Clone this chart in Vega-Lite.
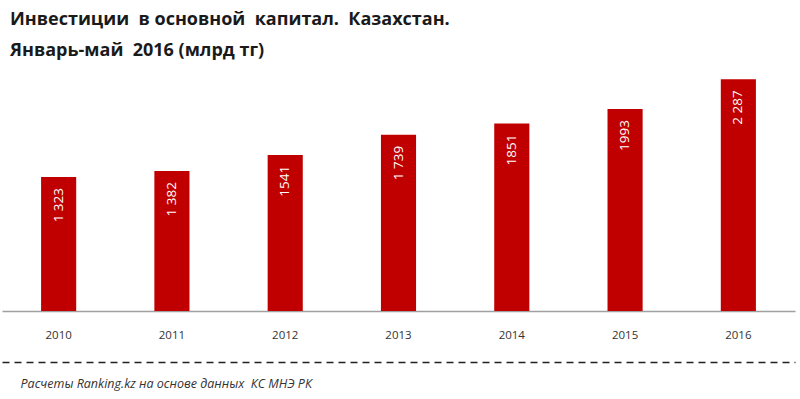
{
  "$schema": "https://vega.github.io/schema/vega-lite/v6.json",
  "width": 793,
  "height": 233,
  "autosize": "none",
  "padding": {"left": 2, "top": 78, "right": 5, "bottom": 88},
  "background": "white",
  "title": {
    "text": "Инвестиции \u00a0в основной \u00a0капитал. \u00a0Казахстан.",
    "subtitle": "Январь-май \u00a02016 (млрд тг)",
    "anchor": "start",
    "frame": "group",
    "dx": 8,
    "font": "Open Sans",
    "fontSize": 18,
    "fontWeight": "bold",
    "color": "#1a1a1a",
    "subtitleFont": "Open Sans",
    "subtitleFontSize": 18,
    "subtitleFontWeight": "bold",
    "subtitleColor": "#1a1a1a",
    "subtitlePadding": 13,
    "offset": 18
  },
  "data": {
    "values": [
      {"year": "2010", "value": 1323, "label": "1 323"},
      {"year": "2011", "value": 1382, "label": "1 382"},
      {"year": "2012", "value": 1541, "label": "1541"},
      {"year": "2013", "value": 1739, "label": "1 739"},
      {"year": "2014", "value": 1851, "label": "1851"},
      {"year": "2015", "value": 1993, "label": "1993"},
      {"year": "2016", "value": 2287, "label": "2 287"}
    ]
  },
  "config": {"view": {"stroke": null}},
  "layer": [
    {
      "mark": {"type": "bar", "color": "#c00000"},
      "encoding": {
        "x": {
          "field": "year",
          "type": "nominal",
          "scale": {"paddingInner": 0.69, "paddingOuter": 0.345},
          "axis": {
            "orient": "bottom",
            "title": null,
            "labelAngle": 0,
            "labelFont": "Open Sans",
            "labelFontSize": 11.5,
            "labelColor": "#333333",
            "labelPadding": 18,
            "ticks": false,
            "domainColor": "#a0a0a0",
            "domainWidth": 1.5
          }
        },
        "y": {
          "field": "value",
          "type": "quantitative",
          "scale": {"domain": [0, 2300], "nice": false},
          "axis": null
        }
      }
    },
    {
      "mark": {
        "type": "text",
        "angle": 270,
        "align": "right",
        "baseline": "middle",
        "dx": -11,
        "color": "white",
        "font": "Open Sans",
        "fontSize": 13.5
      },
      "encoding": {
        "x": {
          "field": "year",
          "type": "nominal",
          "axis": {
            "orient": "bottom",
            "title": "Расчеты Ranking.kz на основе данных \u00a0КС МНЭ РК",
            "labels": false,
            "ticks": false,
            "offset": 51,
            "domainDash": [7, 5],
            "domainColor": "#222222",
            "domainWidth": 1.5,
            "titleAnchor": "start",
            "titleAlign": "left",
            "titleBaseline": "middle",
            "titleX": 18,
            "titleY": 21,
            "titleFont": "Open Sans",
            "titleFontSize": 12.5,
            "titleFontStyle": "italic",
            "titleFontWeight": "normal",
            "titleColor": "#333333"
          }
        },
        "y": {"field": "value", "type": "quantitative"},
        "text": {"field": "label", "type": "nominal"}
      }
    }
  ],
  "resolve": {"axis": {"x": "independent"}}
}
